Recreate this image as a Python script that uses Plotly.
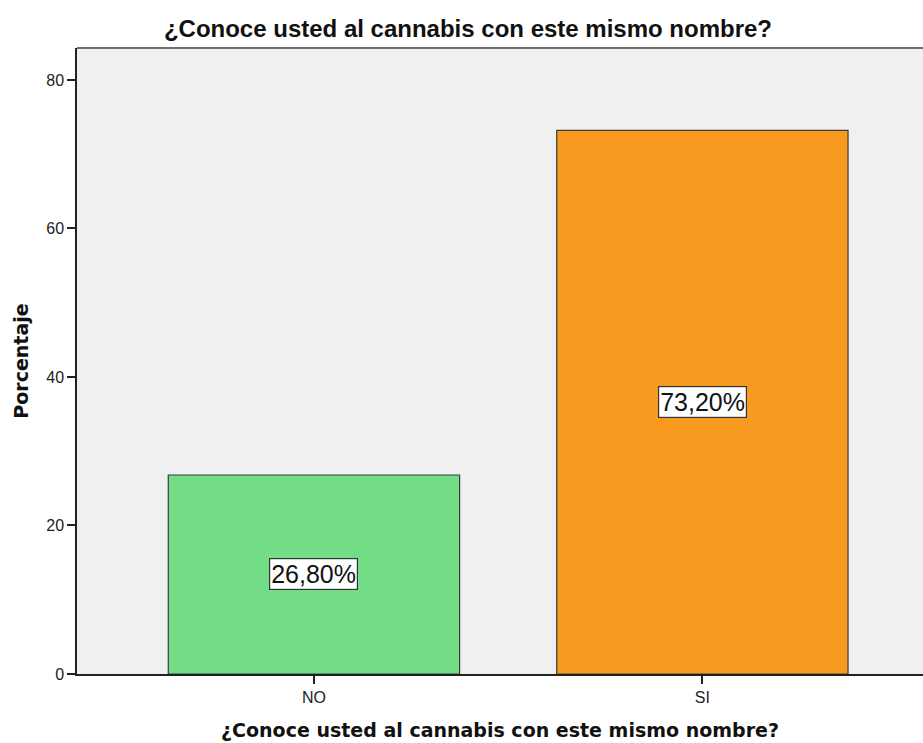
import plotly.graph_objects as go

categories = ["NO", "SI"]
percentages = [26.8, 73.2]
value_labels = ["26,80%", "73,20%"]
bar_colors = ["#72DC86", "#F89A20"]
y_ticks = [0, 20, 40, 60, 80]

title_text = "¿Conoce usted al cannabis con este mismo nombre?"

fig = go.Figure()
fig.add_trace(go.Bar(
    x=categories,
    y=percentages,
    width=0.75,
    marker=dict(color=bar_colors, line=dict(color="#3a3a3a", width=1.2)),
    hoverinfo="skip",
))

# value boxes centred inside each bar
for cat, val, lab in zip(categories, percentages, value_labels):
    fig.add_annotation(
        x=cat, y=val / 2, text=lab, showarrow=False,
        font=dict(family="Liberation Sans, Arial", size=25, color="#111111"),
        bgcolor="white", bordercolor="#333333", borderwidth=1.2, borderpad=1,
    )

# top frame line of the plot area
fig.add_shape(type="line", xref="paper", yref="paper", x0=0, x1=1, y0=1, y1=1,
              line=dict(color="#6e6e6e", width=2))

fig.update_layout(
    width=923, height=743,
    margin=dict(l=77, r=0, t=48, b=69),
    paper_bgcolor="white",
    plot_bgcolor="#F0F0F0",
    showlegend=False,
    title=dict(text=title_text, x=0.507, xanchor="center", y=0.962, yanchor="middle",
               font=dict(family="Liberation Sans, Arial", size=24, color="#111111",
                         weight="bold")),
    xaxis=dict(
        range=[-0.61, 1.568],
        showline=True, linecolor="#222222", linewidth=1.5,
        ticks="outside", ticklen=8, tickcolor="#222222", tickwidth=1.5,
        tickfont=dict(family="Liberation Sans, Arial", size=16, color="#222222"),
        showgrid=False, zeroline=False,
        title=dict(text=title_text, standoff=19,
                   font=dict(family="DejaVu Sans", size=19, color="#111111", weight="bold")),
    ),
    yaxis=dict(
        range=[0, 84.3],
        tickvals=y_ticks,
        showline=True, linecolor="#222222", linewidth=1.5,
        ticks="outside", ticklen=8, tickcolor="#222222", tickwidth=1.5,
        tickfont=dict(family="Liberation Sans, Arial", size=16, color="#222222"),
        showgrid=False, zeroline=False,
        title=dict(text="Porcentaje", standoff=13,
                   font=dict(family="DejaVu Sans", size=19, color="#111111", weight="bold")),
    ),
)

fig.write_html("out.html")
